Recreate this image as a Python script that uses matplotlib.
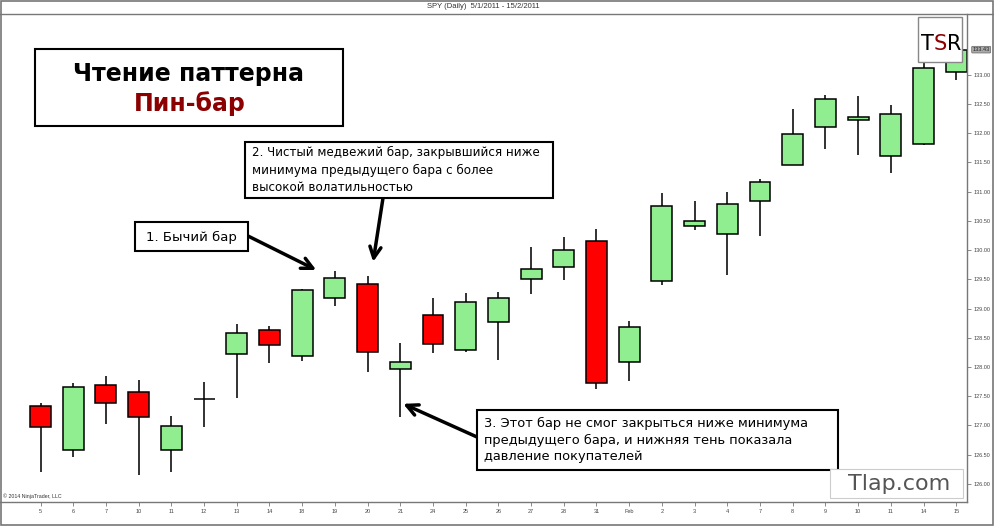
"""
Пин-бар на дневном графике SPY (5/1/2011 - 15/2/2011).
Свечной график с подписями и стрелками, как на исходной картинке.
"""

import matplotlib
matplotlib.use("Agg")
import matplotlib.pyplot as plt
from matplotlib.patches import Rectangle
from matplotlib.lines import Line2D
import numpy as np

# ── данные ──────────────────────────────────────────────────
dates = ["5", "6", "7", "10", "11", "12", "13", "14", "18", "19", "20", "21",
         "24", "25", "26", "27", "28", "31", "Feb", "2", "3", "4", "7", "8",
         "9", "10", "11", "14", "15"]
opens = [127.33, 126.58, 127.69, 127.57, 126.58, 127.45, 128.22, 128.64,
         128.19, 129.18, 129.42, 127.97, 128.89, 128.29, 128.77, 129.51,
         129.71, 130.16, 128.09, 129.47, 130.42, 130.28, 130.84, 131.46,
         132.11, 132.23, 131.61, 131.82, 133.05]
highs = [127.39, 127.73, 127.85, 127.78, 127.16, 127.75, 128.74, 128.70,
         129.34, 129.65, 129.56, 128.41, 129.18, 129.27, 129.29, 130.06,
         130.23, 130.36, 128.79, 130.98, 130.84, 131.00, 131.22, 132.42,
         132.66, 132.64, 132.49, 133.21, 133.51]
lows = [126.21, 126.46, 127.03, 126.15, 126.21, 126.98, 127.47, 128.07,
        128.11, 129.05, 127.92, 127.15, 128.24, 128.26, 128.12, 129.25,
        129.49, 127.63, 127.76, 129.41, 130.35, 129.58, 130.24, 131.45,
        131.73, 131.63, 131.32, 131.80, 132.91]
closes = [126.98, 127.66, 127.39, 127.15, 126.99, 127.45, 128.58, 128.38,
          129.32, 129.53, 128.26, 128.09, 128.40, 129.11, 129.18, 129.68,
          130.00, 127.73, 128.69, 130.76, 130.50, 130.79, 131.17, 131.99,
          132.59, 132.28, 132.33, 133.12, 133.43]
y_ticks = [126.0, 126.5, 127.0, 127.5, 128.0, 128.5, 129.0, 129.5, 130.0,
           130.5, 131.0, 131.5, 132.0, 132.5, 133.0]
last_price = 133.43

# ── оформление ─────────────────────────────────────────────
W, H = 995, 526
UP_COLOR = "#90ee90"
DOWN_COLOR = "#ff0000"
FRAME = "#777777"
DARK_RED = "#8b0000"
NOTE_FONT = "DejaVu Sans"
CHART_FONT = "Liberation Sans"


def px(x, y):
    """пиксели картинки -> доли фигуры"""
    return x / W, 1 - y / H


fig = plt.figure(figsize=(W / 100, H / 100), dpi=100, facecolor="white")
ax = fig.add_axes([0.0, 24 / H, 967 / W, 488 / H])

x = np.arange(len(dates))
o = np.array(opens)
c = np.array(closes)
colors = [UP_COLOR if cc >= oo else DOWN_COLOR for oo, cc in zip(o, c)]

ax.vlines(x, lows, highs, color="#222222", linewidth=1.3, zorder=1)
ax.bar(x, c - o, bottom=o, width=0.64, color=colors,
       edgecolor="black", linewidth=1.1, zorder=2)

ax.set_xlim(-1.24, 28.33)
ax.set_ylim(125.69, 134.04)

ax.yaxis.tick_right()
ax.set_yticks(y_ticks)
ax.set_yticklabels([f"{v:.2f}" for v in y_ticks], fontsize=4,
                   family=CHART_FONT)
ax.set_xticks(x)
ax.set_xticklabels(dates, fontsize=4, family=CHART_FONT)
ax.tick_params(axis="both", direction="out", length=3, width=0.6,
               colors=FRAME, pad=2)
for lab in ax.get_xticklabels() + ax.get_yticklabels():
    lab.set_color("#444444")

ax.spines["left"].set_visible(False)
ax.spines["top"].set_visible(False)
for side in ("bottom", "right"):
    ax.spines[side].set_color(FRAME)
    ax.spines[side].set_linewidth(1.0)

# верхняя линия под заголовком и рамка картинки
fig.add_artist(Line2D([0, 1], [1 - 14 / H] * 2, transform=fig.transFigure,
                      color=FRAME, linewidth=1.0))
fig.add_artist(Rectangle((0.001, 0.002), 0.997, 0.996, transform=fig.transFigure,
                         fill=False, edgecolor=FRAME, linewidth=1.2))

fig.text(*px(483, 7), "SPY (Daily)  5/1/2011 - 15/2/2011", ha="center",
         va="center", fontsize=5.5, color="#333333", family=CHART_FONT)
fig.text(*px(3, 499), "© 2014 NinjaTrader, LLC", ha="left", va="bottom",
         fontsize=3.8, color="#333333", family=CHART_FONT)

# метка последней цены
ax.annotate(f"{last_price:.2f}", xy=(1.0, last_price), xycoords=("axes fraction", "data"),
            xytext=(4, 0), textcoords="offset points", ha="left", va="center",
            fontsize=4, color="#222222", family=CHART_FONT,
            bbox=dict(boxstyle="round,pad=0.15", fc="#aaaaaa", ec="#666666", lw=0.5))


def box(x0, y0, x1, y1, ec="black", lw=1.5):
    fx, fy = px(x0, y1)
    fig.add_artist(Rectangle((fx, fy), (x1 - x0) / W, (y1 - y0) / H,
                             transform=fig.transFigure, facecolor="white",
                             edgecolor=ec, linewidth=lw, zorder=5))


# заголовок
box(35, 49, 343, 126)
fig.text(*px(189, 74), "Чтение паттерна", ha="center", va="center",
         fontsize=17, fontweight="bold", family=NOTE_FONT, zorder=6)
fig.text(*px(190, 104), "Пин-бар", ha="center", va="center",
         fontsize=17, fontweight="bold", color=DARK_RED, family=NOTE_FONT, zorder=6)

# подписи
box(135, 222, 248, 251)
fig.text(*px(146, 237), "1. Бычий бар", ha="left", va="center",
         fontsize=9.5, family=NOTE_FONT, zorder=6)

box(245, 142, 553, 198)
fig.text(*px(252, 170), "2. Чистый медвежий бар, закрывшийся ниже\n"
         "минимума предыдущего бара с более\nвысокой волатильностью",
         ha="left", va="center", fontsize=8.6, linespacing=1.4,
         family=NOTE_FONT, zorder=6)

box(477, 410, 838, 470)
fig.text(*px(484, 440), "3. Этот бар не смог закрыться ниже минимума\n"
         "предыдущего бара, и нижняя тень показала\nдавление покупателей",
         ha="left", va="center", fontsize=9.4, linespacing=1.35,
         family=NOTE_FONT, zorder=6)

# стрелки
arrow = dict(arrowstyle="->,head_length=0.8,head_width=0.4", color="black",
             lw=2.5, shrinkA=0, shrinkB=0)
ax.annotate("", xy=(8.43, 129.66), xycoords="data",
            xytext=px(248, 236), textcoords="figure fraction", arrowprops=arrow)
ax.annotate("", xy=(10.17, 129.80), xycoords="data",
            xytext=px(383, 198), textcoords="figure fraction", arrowprops=arrow)
ax.annotate("", xy=(11.09, 127.37), xycoords="data",
            xytext=px(477, 437), textcoords="figure fraction", arrowprops=arrow)

# логотип TSR: буквы одна за другой, S тёмно-красная
box(918, 17, 962, 62, ec="#888888", lw=1.0)
renderer = fig.canvas.get_renderer()
cur_x = 921.5
for ch, col in (("T", "black"), ("S", DARK_RED), ("R", "black")):
    t = fig.text(*px(cur_x, 50), ch, ha="left", va="baseline", color=col,
                 fontsize=15, family="DejaVu Sans", zorder=6)
    cur_x += t.get_window_extent(renderer).width - 0.5

# Tlap.com
box(830, 469, 963, 498, ec="#cccccc", lw=0.8)
fig.text(*px(899, 484), "Tlap.com", ha="center", va="center", fontsize=16,
         color="#555555", family=NOTE_FONT, zorder=6)

fig.savefig("out.png", dpi=100, facecolor="white")
